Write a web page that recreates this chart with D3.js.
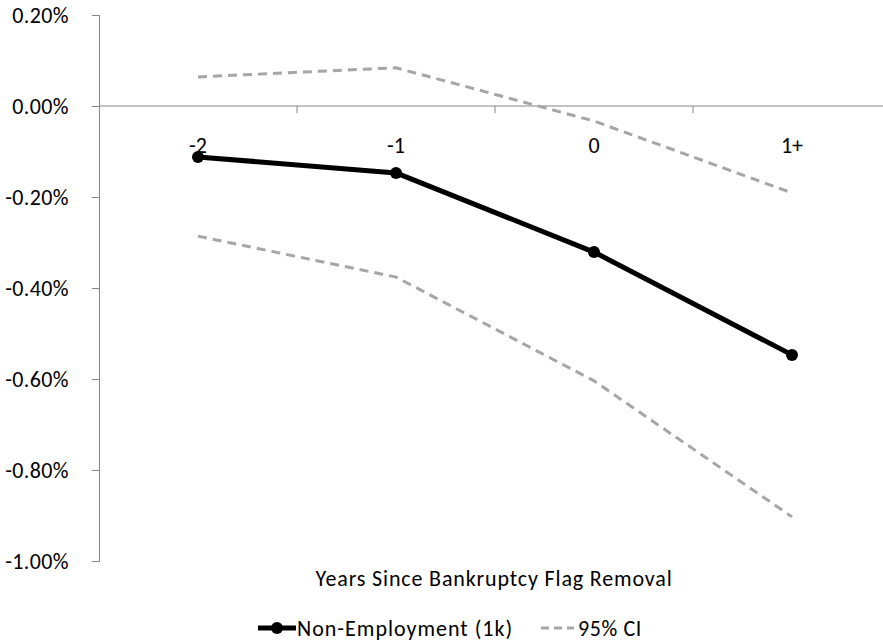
<!DOCTYPE html>
<html><head><meta charset="utf-8">
<script src="https://cdn.jsdelivr.net/npm/d3@7"></script>
<style>body{margin:0;background:#fff}svg text{font-family:Carlito,Lato,"Open Sans",sans-serif;fill:#000}</style>
</head><body><svg id="c" width="883" height="643"></svg>
<script>
const categories = ["-2","-1","0","1+"];
const estimate = [-0.112, -0.147, -0.321, -0.547];
const upperCI = [0.064, 0.084, -0.033, -0.191];
const lowerCI = [-0.286, -0.376, -0.604, -0.903];
const yTicks = [0.2, 0, -0.2, -0.4, -0.6, -0.8, -1.0];

const svg = d3.select("#c");
const x = d3.scaleBand().domain(categories).range([99, 891]);
const y = d3.scaleLinear().domain([-1.0, 0.2]).range([561, 15]);
const axisColor = "#868686";
const FS = 22;

// y axis
const ya = svg.append("g").attr("transform","translate(99,0)")
  .call(d3.axisLeft(y).tickValues(yTicks).tickSize(7).tickPadding(23)
    .tickFormat(d => d3.format(".2f")(d).replace("\u2212","-") + "%"));
ya.select(".domain").attr("stroke", axisColor);
ya.selectAll(".tick line").attr("stroke", axisColor);
ya.selectAll(".tick text").attr("font-size", FS).attr("letter-spacing", 0.4).style("font-family","Carlito,Lato,sans-serif");

// x axis at zero
const xa = svg.append("g").attr("transform",`translate(0,${y(0)})`)
  .call(d3.axisBottom(x).tickSize(0).tickPadding(0));
xa.select(".domain").attr("stroke", axisColor).attr("d", `M99,0H883`);
xa.selectAll(".tick text").attr("font-size", FS).attr("dy", 0).attr("y", 47).style("font-family","Carlito,Lato,sans-serif");
// category boundary ticks
const bounds = categories.slice(1).map(c => x(c));
xa.selectAll(".bt").data(bounds).enter().append("line")
  .attr("x1", d=>d).attr("x2", d=>d).attr("y1",0).attr("y2",7).attr("stroke", axisColor);

const line = d3.line().x((d,i)=>x(categories[i]) + x.bandwidth()/2).y(d=>y(d));

svg.append("path").datum(upperCI).attr("d", line).attr("fill","none")
  .attr("stroke","#a6a6a6").attr("stroke-width",3).attr("stroke-dasharray","9,6");
svg.append("path").datum(lowerCI).attr("d", line).attr("fill","none")
  .attr("stroke","#a6a6a6").attr("stroke-width",3).attr("stroke-dasharray","9,6");
svg.append("path").datum(estimate).attr("d", line).attr("fill","none")
  .attr("stroke","#000").attr("stroke-width",5).attr("stroke-linejoin","round");
svg.selectAll(".pt").data(estimate).enter().append("circle")
  .attr("cx",(d,i)=>x(categories[i]) + x.bandwidth()/2).attr("cy", d=>y(d)).attr("r",6).attr("fill","#000");

// axis title
svg.append("text").attr("x", 494).attr("y", 586).attr("text-anchor","middle")
  .attr("font-size", FS).attr("letter-spacing", 0.85).text("Years Since Bankruptcy Flag Removal");

// legend
const ly = 628;
svg.append("line").attr("x1",258).attr("x2",296).attr("y1",ly).attr("y2",ly).attr("stroke","#000").attr("stroke-width",5);
svg.append("circle").attr("cx",277).attr("cy",ly).attr("r",6).attr("fill","#000");
svg.append("text").attr("x",297).attr("y",ly+8).attr("font-size",FS).attr("letter-spacing",1.0).text("Non-Employment (1k)");
svg.append("line").attr("x1",541).attr("x2",574).attr("y1",ly).attr("y2",ly).attr("stroke","#a6a6a6").attr("stroke-width",3).attr("stroke-dasharray","8,5");
svg.append("text").attr("x",578).attr("y",ly+8).attr("font-size",FS).attr("letter-spacing",0.6).text("95% CI");
</script></body></html>
